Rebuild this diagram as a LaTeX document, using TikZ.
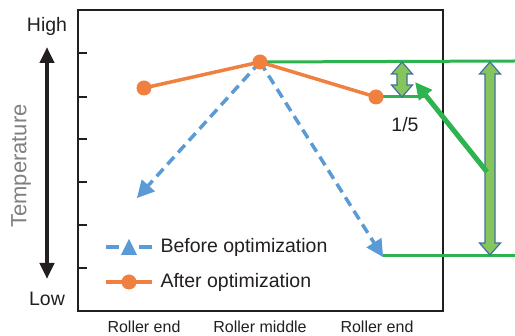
\documentclass[tikz,border=0pt]{standalone}
\usepackage{fontspec}
\setmainfont{Liberation Sans}
\usetikzlibrary{arrows.meta,calc}

\definecolor{lineblue}{HTML}{5B9BD5}
\definecolor{lineorange}{HTML}{F08040}
\definecolor{markgreen}{HTML}{2DB34F}
\definecolor{arrowfill}{HTML}{86C55C}
\definecolor{arrowedge}{HTML}{41719C}
\definecolor{textdark}{HTML}{231F20}

\tikzset{
  before/.style={lineblue, line width=3.5pt, dash pattern=on 10pt off 6pt},
  after/.style={lineorange, line width=3.5pt},
  dot/.style={circle, fill=lineorange, inner sep=0pt, minimum size=15pt},
  gline/.style={markgreen, line width=3pt},
  blockarrow/.style={draw=arrowedge, fill=arrowfill, line width=1.2pt, line join=miter},
  axislabel/.style={text=textdark, font=\fontsize{19.5}{22}\selectfont},
  caselabel/.style={text=textdark, font=\fontsize{16}{19}\selectfont}
}

% vertical block arrow with two heads: x, top, bottom
\newcommand{\dblarrow}[3]{%
  \draw[blockarrow] (#1,#2) -- ++(10.5,12) -- ++(-5.5,0) -- (#1+5,#3-12)
    -- ++(5.5,0) -- (#1,#3) -- ++(-10.5,-12) -- ++(5.5,0) -- (#1-5,#2+12)
    -- ++(-5.5,0) -- cycle;}

\begin{document}
\begin{tikzpicture}[x=1pt,y=-1pt]

\useasboundingbox (0,0) rectangle (515,336);

% Frame and ticks
\draw[textdark, line width=1.3pt] (78,10) rectangle (443,311);
\foreach \y in {53,97,139,182,225,268}
{
    \draw[textdark, line width=1.1pt] (78,\y) -- (87,\y);
}

% Temperature axis
\node[axislabel] (high) at (47,26) {High};
\node[axislabel] (low) at (47,299) {Low};
\coordinate (top) at (47,47);
\coordinate (bottom) at (47,279);
\draw[textdark, line width=4.5pt, {Triangle[length=16pt,width=14pt]}-{Triangle[length=16pt,width=14pt]}]
    (top) -- (bottom);
\node[rotate=90, text=gray, font=\fontsize{22}{25}\selectfont] (temp) at (21,166) {Temperature};

% Data points
\coordinate (b1) at (137,198);
\coordinate (b2) at (260,62);
\coordinate (b3) at (383,257);
\coordinate (a1) at (144,88);
\coordinate (a2) at (260,62);
\coordinate (a3) at (376,97);

% Green guide lines
\draw[gline] (a2) -- (515,61);
\draw[gline] (383,256) -- (515,256);
\draw[gline] (a3) -- (425,97);

% Before optimization
\foreach \e in {b1,b3}
{
    \draw[before] (b2) -- ($(\e)!14pt!(b2)$);
    \coordinate (base) at ($(\e)!17pt!(b2)$);
    \fill[lineblue] (\e) -- ($(base)!9pt!90:(b2)$) -- ($(base)!9pt!-90:(b2)$) -- cycle;
}

% After optimization
\draw[after] (a1) -- (a2) -- (a3);
\foreach \p in {a1,a2,a3}
{
    \node[dot] at (\p) {};
}

% Reduction arrows
\dblarrow{402}{62}{97}
\dblarrow{490}{62}{255}
\node[axislabel] (ratio) at (405,125) {1/5};
\coordinate (from) at (487,172);
\coordinate (to) at (415,82);
\draw[markgreen, line width=5pt, -{Triangle[length=17pt,width=16pt]}] (from) -- (to);

% Legend
\draw[before, dash pattern=on 13pt off 20pt on 13pt] (106,247) -- (152,247);
\fill[lineblue] (129,239) -- (137,255) -- (121,255) -- cycle;
\node[axislabel, anchor=west] (lbefore) at (157,247) {Before optimization};
\draw[after] (106,282) -- (152,282);
\node[dot] at (129,282) {};
\node[axislabel, anchor=west] (lafter) at (157,282) {After optimization};

% Positions
\node[caselabel] (end1) at (144,327) {Roller end};
\node[caselabel] (middle) at (260,327) {Roller middle};
\node[caselabel] (end2) at (377,327) {Roller end};

\end{tikzpicture}
\end{document}
